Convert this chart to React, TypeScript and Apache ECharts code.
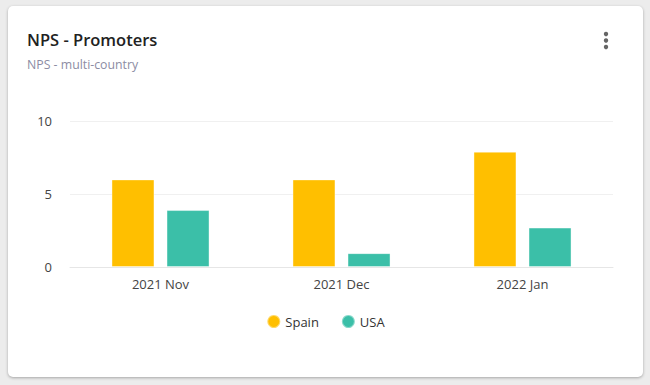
import React, { useEffect, useRef } from "react";
import * as echarts from "echarts";

const categories = ["2021 Nov", "2021 Dec", "2022 Jan"];
const spainValues = [6, 6, 7.9];
const usaValues = [3.9, 0.95, 2.7];
const seriesNames = ["Spain", "USA"];
const yTicks = [0, 5, 10];

export default function App() {
  const ref = useRef<HTMLDivElement>(null);
  useEffect(() => {
    if (!ref.current) return;
    const chart = echarts.init(ref.current, undefined, { renderer: "svg" });
    const font = "'Open Sans', 'Noto Sans', sans-serif";
    chart.setOption({
      animation: false,
      textStyle: { fontFamily: font },
      title: [
        {
          text: "NPS - Promoters",
          left: 14,
          top: 20,
          textStyle: { fontFamily: font, fontSize: 16.5, fontWeight: 600, color: "#222" },
        },
        {
          text: "NPS - multi-country",
          left: 14,
          top: 47,
          textStyle: { fontFamily: font, fontSize: 12.3, fontWeight: 400, color: "#8c8ca3" },
        },
      ],
      graphic: [
        { type: "circle", shape: { cx: 598, cy: 28, r: 2.2 }, style: { fill: "#666" } },
        { type: "circle", shape: { cx: 598, cy: 34.5, r: 2.2 }, style: { fill: "#666" } },
        { type: "circle", shape: { cx: 598, cy: 41, r: 2.2 }, style: { fill: "#666" } },
      ],
      legend: {
        data: seriesNames,
        bottom: 43,
        left: "center",
        icon: "circle",
        itemWidth: 13,
        itemHeight: 13,
        itemGap: 22,
        textStyle: { fontFamily: font, fontSize: 13, color: "#333" },
      },
      grid: { left: 62, right: 30, top: 115, bottom: 110 },
      xAxis: {
        type: "category",
        data: categories,
        axisLine: { lineStyle: { color: "#e6e6e6" } },
        axisTick: { show: false },
        axisLabel: { color: "#444", fontSize: 13, margin: 10, fontFamily: font },
      },
      yAxis: {
        type: "value",
        min: yTicks[0],
        max: yTicks[yTicks.length - 1],
        interval: 5,
        axisLine: { show: false },
        axisTick: { show: false },
        splitLine: { lineStyle: { color: "#f0f0f0" } },
        axisLabel: { color: "#444", fontSize: 13, margin: 18, fontFamily: font },
      },
      series: [
        {
          name: seriesNames[0],
          type: "bar",
          data: spainValues,
          barWidth: 43,
          barGap: "28%",
          itemStyle: { color: "#ffbf00", borderColor: "rgba(255,255,255,0.4)", borderWidth: 1 },
        },
        {
          name: seriesNames[1],
          type: "bar",
          data: usaValues,
          barWidth: 43,
          barGap: "28%",
          itemStyle: { color: "#3bbfa8", borderColor: "rgba(255,255,255,0.4)", borderWidth: 1 },
        },
      ],
    });
    return () => chart.dispose();
  }, []);
  return (
    <div
      style={{
        position: "fixed",
        left: 0,
        top: 0,
        width: 650,
        height: 385,
        background: "#ececec",
      }}
    >
      <div
        style={{
          position: "absolute",
          left: 8,
          top: 6,
          width: 635,
          height: 371,
          background: "#fff",
          borderRadius: 5,
          boxShadow: "0 1px 3px rgba(0,0,0,0.3)",
          overflow: "hidden",
        }}
      >
        <div ref={ref} style={{ width: 635, height: 371 }} />
      </div>
    </div>
  );
}
